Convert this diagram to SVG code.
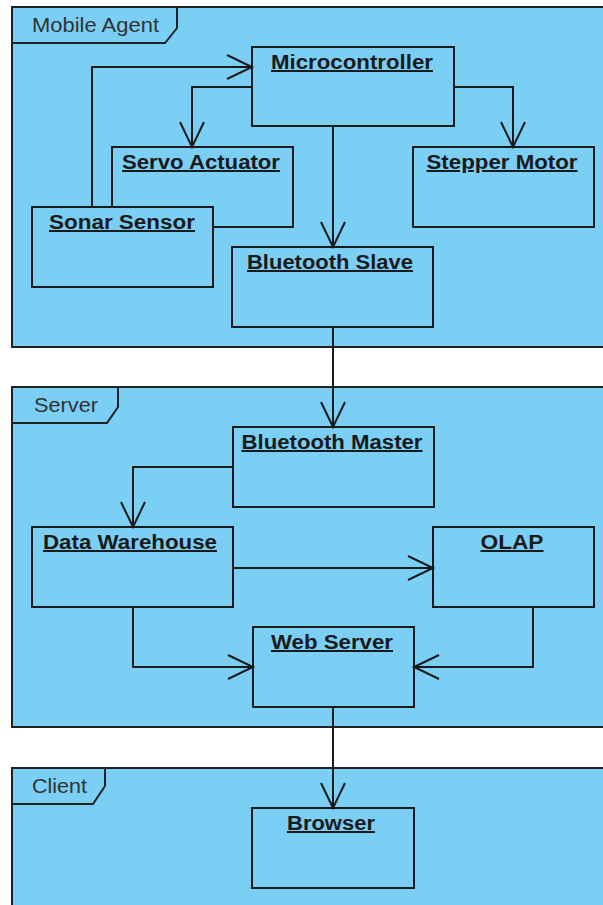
<svg xmlns="http://www.w3.org/2000/svg" width="603" height="905" viewBox="0 0 603 905">
<defs>
<style>
.frame{fill:#7BCEF4;stroke:#222;stroke-width:2}
.tab{fill:none;stroke:#222;stroke-width:2}
.ftxt{font-family:"Liberation Sans",Arial,sans-serif;font-size:21px;fill:#333}
.box{fill:#7BCEF4;stroke:#1a1a1a;stroke-width:2}
.lbl{font-family:"Liberation Sans",Arial,sans-serif;font-size:20px;font-weight:bold;fill:#1a1a1a;text-decoration:underline;text-anchor:middle}
.edge{fill:none;stroke:#1a1a1a;stroke-width:2;marker-end:url(#arr)}
</style>
<marker id="arr" markerUnits="userSpaceOnUse" viewBox="-27 -14 30 28" refX="0" refY="0" markerWidth="30" markerHeight="28" orient="auto">
<path d="M-25 -12 L0 0 L-25 12" fill="none" stroke="#1a1a1a" stroke-width="2"/>
</marker>
</defs>
<rect width="603" height="905" fill="#fff"/>
<g id="frame-mobile">
<rect class="frame" x="12" y="7" width="600" height="340"/>
<path class="tab" d="M12 43 H165 L177 28 V7"/>
<text class="ftxt" x="32" y="32" textLength="127" lengthAdjust="spacingAndGlyphs">Mobile Agent</text>
</g>
<g id="frame-server">
<rect class="frame" x="12" y="387" width="600" height="340"/>
<path class="tab" d="M12 423 H107 L118 407 V387"/>
<text class="ftxt" x="34" y="412" textLength="64" lengthAdjust="spacingAndGlyphs">Server</text>
</g>
<g id="frame-client">
<rect class="frame" x="12" y="768" width="600" height="150"/>
<path class="tab" d="M12 804 H93 L105 786 V768"/>
<text class="ftxt" x="32" y="793" textLength="55" lengthAdjust="spacingAndGlyphs">Client</text>
</g>
<g id="microcontroller">
<rect class="box" x="252" y="47" width="202" height="79"/>
<text class="lbl" x="352" y="69" textLength="162" lengthAdjust="spacingAndGlyphs">Microcontroller</text>
</g>
<g id="servo-actuator">
<rect class="box" x="112" y="147" width="181" height="80"/>
<text class="lbl" x="201" y="169" textLength="158" lengthAdjust="spacingAndGlyphs">Servo Actuator</text>
</g>
<g id="sonar-sensor">
<rect class="box" x="32" y="207" width="181" height="80"/>
<text class="lbl" x="122" y="229" textLength="146" lengthAdjust="spacingAndGlyphs">Sonar Sensor</text>
</g>
<g id="stepper-motor">
<rect class="box" x="413" y="147" width="181" height="80"/>
<text class="lbl" x="502" y="169" textLength="151" lengthAdjust="spacingAndGlyphs">Stepper Motor</text>
</g>
<g id="bluetooth-slave">
<rect class="box" x="232" y="247" width="201" height="80"/>
<text class="lbl" x="330" y="269" textLength="166" lengthAdjust="spacingAndGlyphs">Bluetooth Slave</text>
</g>
<g id="bluetooth-master">
<rect class="box" x="233" y="427" width="201" height="80"/>
<text class="lbl" x="332" y="449" textLength="181" lengthAdjust="spacingAndGlyphs">Bluetooth Master</text>
</g>
<g id="data-warehouse">
<rect class="box" x="32" y="527" width="201" height="80"/>
<text class="lbl" x="130" y="549" textLength="174" lengthAdjust="spacingAndGlyphs">Data Warehouse</text>
</g>
<g id="olap">
<rect class="box" x="433" y="527" width="161" height="80"/>
<text class="lbl" x="512" y="549" textLength="63" lengthAdjust="spacingAndGlyphs">OLAP</text>
</g>
<g id="web-server">
<rect class="box" x="253" y="627" width="161" height="80"/>
<text class="lbl" x="332" y="649" textLength="122" lengthAdjust="spacingAndGlyphs">Web Server</text>
</g>
<g id="browser">
<rect class="box" x="252" y="808" width="162" height="80"/>
<text class="lbl" x="331" y="830" textLength="88" lengthAdjust="spacingAndGlyphs">Browser</text>
</g>
<g id="connectors">
<path class="edge" d="M92 207 V67 H252"/>
<path class="edge" d="M252 87 H192 V147"/>
<path class="edge" d="M454 87 H513 V147"/>
<path class="edge" d="M333 126 V247"/>
<path class="edge" d="M333 327 V427"/>
<path class="edge" d="M233 467 H133 V527"/>
<path class="edge" d="M233 568 H433"/>
<path class="edge" d="M133 607 V667 H253"/>
<path class="edge" d="M533 607 V667 H414"/>
<path class="edge" d="M333 707 V808"/>
</g>
</svg>
